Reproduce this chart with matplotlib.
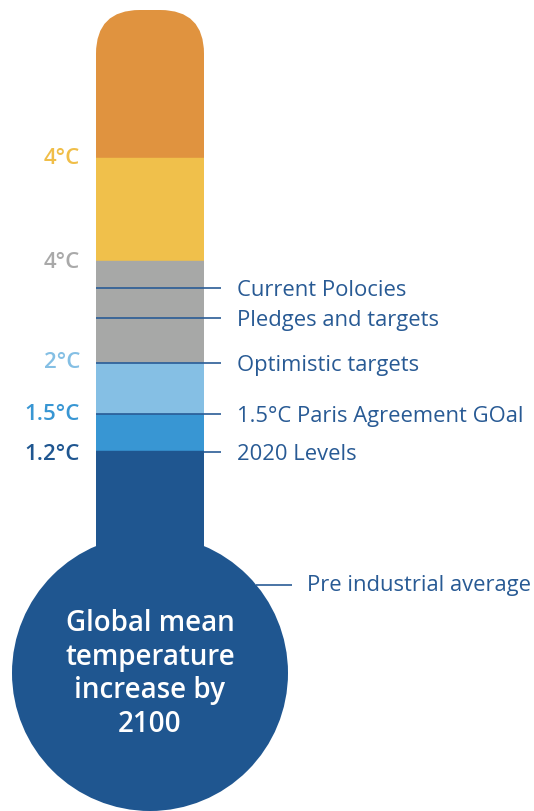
import matplotlib
matplotlib.use("Agg")
import matplotlib.pyplot as plt
from matplotlib.patches import FancyBboxPatch, Circle

# ---- data (infographic units = pixel rows of the thermometer scale) ----
band_colors = ["#E0933F", "#F0C04B", "#A7A8A7", "#85BFE4", "#3896D3", "#1F5690"]
band_top = [10, 158, 261, 363, 414, 451]
band_bottom = [158, 261, 363, 414, 451, 620]

scale_labels = ["4°C", "4°C", "2°C", "1.5°C", "1.2°C"]
scale_label_y = [157, 261, 360, 413, 453]
scale_label_colors = ["#F0BE48", "#A9A9A9", "#84BFE4", "#3896D3", "#1F5690"]

marker_labels = ["Current Polocies", "Pledges and targets", "Optimistic targets",
                 "1.5°C Paris Agreement GOal", "2020 Levels"]
marker_y = [288, 318, 363, 414, 452]
marker_start = [96, 96, 96, 96, 204]

bulb_text = "Global mean\ntemperature\nincrease by\n2100"
pre_label = "Pre industrial average"
pre_y = 585

tube_left, tube_right = 96, 204
bulb_center = (150, 673)
bulb_radius = 138

TEXT_BLUE = "#285A94"
LINE_BLUE = "#2A5C96"
FONT = ["Open Sans", "DejaVu Sans"]

fig = plt.figure(figsize=(5.34, 8.11), dpi=100)
ax = fig.add_axes([0, 0, 1, 1])
ax.set_xlim(0, 534)
ax.set_ylim(811, 0)
ax.axis("off")

# tube outline for clipping (rounded top)
clip = FancyBboxPatch((tube_left, band_top[0]), tube_right - tube_left,
                      band_bottom[-1] - band_top[0],
                      boxstyle="round,pad=0,rounding_size=44",
                      transform=ax.transData, facecolor="none", edgecolor="none")
ax.add_patch(clip)

width = tube_right - tube_left
for top, bot, col in zip(band_top, band_bottom, band_colors):
    bars = ax.bar(tube_left, bot - top, bottom=top, width=width, align="edge",
                  color=col, edgecolor=col, linewidth=0.3, zorder=2)
    for b in bars:
        b.set_clip_path(clip)

# bulb
ax.add_patch(Circle(bulb_center, bulb_radius, facecolor=band_colors[-1],
                    edgecolor="none", zorder=3))
ax.text(bulb_center[0], bulb_center[1] + 1, bulb_text, ha="center", va="center",
        color="white", fontsize=20, fontweight="semibold", family=FONT,
        linespacing=1.2, zorder=4)

# left scale labels
for lab, y, c in zip(scale_labels, scale_label_y, scale_label_colors):
    ax.text(80, y + 2, lab, ha="right", va="center", color=c, fontsize=16,
            fontweight="semibold", family=FONT, zorder=4)

# markers
for lab, y, x0 in zip(marker_labels, marker_y, marker_start):
    ax.plot([x0, 221], [y, y], color=LINE_BLUE, lw=1.2, zorder=5,
            solid_capstyle="butt")
    ax.text(237, y + 2.5, lab, ha="left", va="center", color=TEXT_BLUE,
            fontsize=15.8, family=FONT, zorder=5)

# pre-industrial
ax.plot([256, 292], [pre_y, pre_y], color=LINE_BLUE, lw=1.2, zorder=5,
        solid_capstyle="butt")
ax.text(307, pre_y + 0.5, pre_label, ha="left", va="center", color=TEXT_BLUE,
        fontsize=15.8, family=FONT, zorder=5)

fig.savefig("out.png", dpi=100, facecolor="white")
